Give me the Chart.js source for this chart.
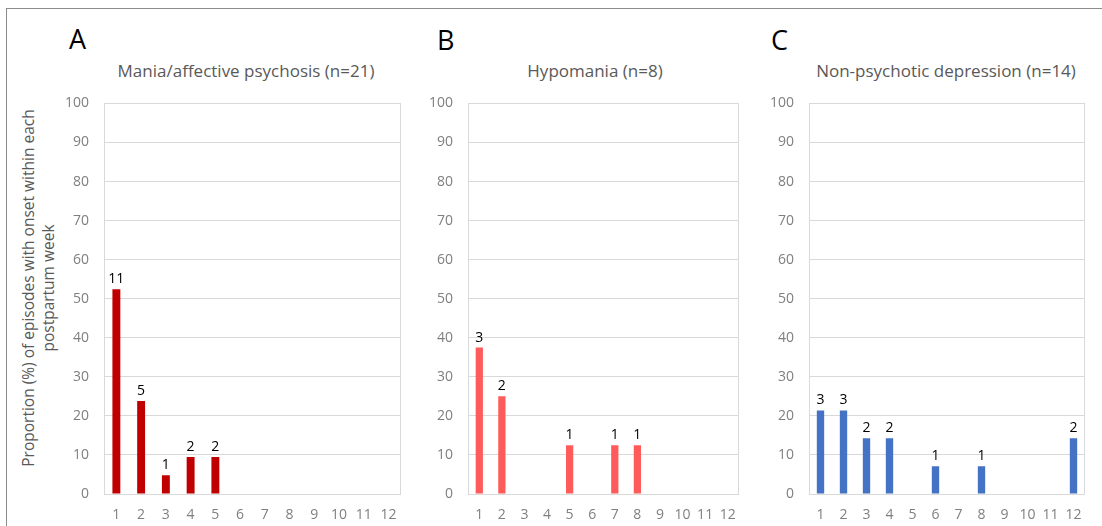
<!DOCTYPE html>
<html>
<head>
<meta charset="utf-8">
<script src="https://cdn.jsdelivr.net/npm/chart.js@4.4.1/dist/chart.umd.min.js"></script>
<style>
  html, body { margin: 0; padding: 0; background: #fff; }
  #page { position: relative; width: 1102px; height: 526px; overflow: hidden; font-family: "Open Sans", sans-serif; }
  #frame { position: absolute; left: 6px; top: 8px; right: -2px; bottom: -2px; border-left: 1px solid #8c8c8c; border-top: 1px solid #8c8c8c; }
  .letter { position: absolute; font-size: 27px; color: #000; line-height: 1; }
  .title { position: absolute; top: 60px; font-size: 17px; color: #595959; white-space: nowrap; transform: translateX(-50%); line-height: 22px; }
  #ytitle { position: absolute; left: 38px; top: 288px; width: 420px; transform: translate(-50%, -50%) rotate(-90deg);
            text-align: center; font-size: 15.5px; line-height: 20px; color: #595959; white-space: nowrap; }
  .box { position: absolute; top: 80px; height: 446px; }
</style>
</head>
<body>
<div id="page">
  <div id="frame"></div>
  <div class="letter" style="left:69px;top:25px">A</div>
  <div class="letter" style="left:437px;top:26px">B</div>
  <div class="letter" style="left:771px;top:26px">C</div>
  <div class="title" style="left:246px">Mania/affective psychosis (n=21)</div>
  <div class="title" style="left:595px">Hypomania (n=8)</div>
  <div class="title" style="left:946px">Non-psychotic depression (n=14)</div>
  <div id="ytitle">Proportion (%) of episodes with onset within each<br>postpartum week</div>
  <div class="box" style="left:60px;width:350px"><canvas id="chartA"></canvas></div>
  <div class="box" style="left:420px;width:330px"><canvas id="chartB"></canvas></div>
  <div class="box" style="left:760px;width:342px"><canvas id="chartC"></canvas></div>
</div>
<script>
// postpartum weeks
const weeks = ['1', '2', '3', '4', '5', '6', '7', '8', '9', '10', '11', '12'];

// A: mania / affective psychosis (n=21)
const pctA = [52.4, 23.8, 4.8, 9.5, 9.5, 0, 0, 0, 0, 0, 0, 0];
const countA = [11, 5, 1, 2, 2, null, null, null, null, null, null, null];

// B: hypomania (n=8)
const pctB = [37.5, 25, 0, 0, 12.5, 0, 12.5, 12.5, 0, 0, 0, 0];
const countB = [3, 2, null, null, 1, null, 1, 1, null, null, null, null];

// C: non-psychotic depression (n=14)
const pctC = [21.4, 21.4, 14.3, 14.3, 0, 7.1, 0, 7.1, 0, 0, 0, 14.3];
const countC = [3, 3, 2, 2, null, 1, null, 1, null, null, null, 2];

const yMax = 100;
const yStep = 10;

// box around the plot area, like the Excel chart
const plotFrame = {
  id: 'plotFrame',
  beforeDatasetsDraw(chart) {
    const { ctx, chartArea: a } = chart;
    ctx.save();
    ctx.strokeStyle = '#d9d9d9';
    ctx.lineWidth = 1;
    ctx.strokeRect(Math.round(a.left) + 0.5, Math.round(a.top) + 0.5,
      Math.round(a.right - a.left) - 1, Math.round(a.bottom - a.top));
    ctx.restore();
  }
};

// counts written above each bar
const barCounts = {
  id: 'barCounts',
  afterDatasetsDraw(chart, args, opts) {
    const ctx = chart.ctx;
    const meta = chart.getDatasetMeta(0);
    ctx.save();
    ctx.font = '14px "Open Sans", sans-serif';
    ctx.fillStyle = '#000';
    ctx.textAlign = 'center';
    ctx.textBaseline = 'bottom';
    meta.data.forEach((bar, i) => {
      const c = opts.counts[i];
      if (c == null) return;
      ctx.fillText(String(c), bar.x, bar.y - 3);
    });
    ctx.restore();
  }
};

function makeChart(id, values, counts, color, yWidth, padRight) {
  const ctx = document.getElementById(id).getContext('2d');
  return new Chart(ctx, {
    type: 'bar',
    data: {
      labels: weeks,
      datasets: [{
        data: values,
        backgroundColor: color,
        borderWidth: 0,
        barPercentage: 0.32,
        categoryPercentage: 1
      }]
    },
    options: {
      responsive: true,
      maintainAspectRatio: false,
      animation: false,
      layout: { padding: { top: 3, right: padRight, bottom: 0, left: 0 } },
      plugins: {
        legend: { display: false },
        tooltip: { enabled: false },
        barCounts: { counts: counts }
      },
      scales: {
        x: {
          grid: { display: false, drawTicks: false },
          border: { display: false },
          ticks: { color: '#7f7f7f', font: { family: 'Open Sans', size: 14 }, padding: 13, maxRotation: 0, autoSkip: false },
          afterFit(scale) { scale.height = 32; }
        },
        y: {
          min: 0,
          max: yMax,
          grid: { color: '#d9d9d9', drawTicks: false },
          border: { display: false },
          ticks: { stepSize: yStep, color: '#7f7f7f', font: { family: 'Open Sans', size: 14 }, padding: 15 },
          afterFit(scale) { scale.width = yWidth; }
        }
      }
    },
    plugins: [plotFrame, barCounts]
  });
}

makeChart('chartA', pctA, countA, '#C00000', 44, 9);
makeChart('chartB', pctB, countB, '#FF5B5B', 48, 11);
makeChart('chartC', pctC, countC, '#4472C4', 49, 17);
</script>
</body>
</html>
